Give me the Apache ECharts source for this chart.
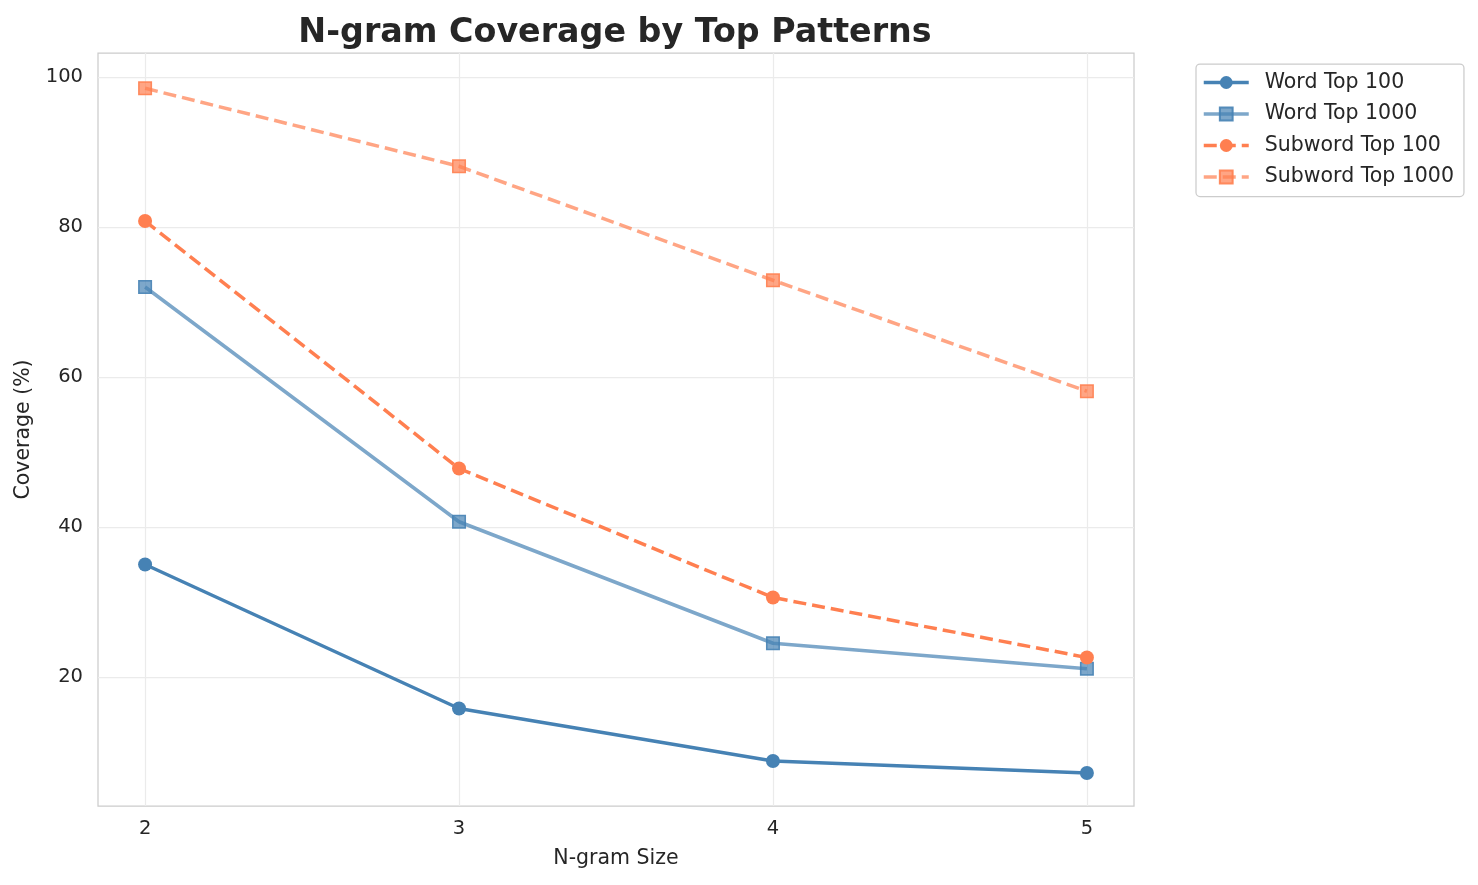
<!DOCTYPE html>
<html>
<head>
<meta charset="utf-8">
<script src="https://cdn.jsdelivr.net/npm/echarts@6/dist/echarts.min.js"></script>
<style>
html,body{margin:0;padding:0;background:#fff;}
#chart{width:1478px;height:885px;}
</style>
</head>
<body>
<div id="chart"></div>
<script>
const ngramSizes = [2, 3, 4, 5];
const xTicks = [2, 3, 4, 5];
const yTicks = [20, 40, 60, 80, 100];
const wordTop100 = [35.0, 15.8, 8.8, 7.2];
const wordTop1000 = [72.0, 40.7, 24.5, 21.1];
const subwordTop100 = [80.8, 47.8, 30.6, 22.6];
const subwordTop1000 = [98.5, 88.1, 72.9, 58.1];
const seriesNames = ['Word Top 100', 'Word Top 1000', 'Subword Top 100', 'Subword Top 1000'];

const pairs = vals => ngramSizes.map((x, i) => [x, vals[i]]);
const FONT = 'DejaVu Sans';
const TXT = '#262626';

const chart = echarts.init(document.getElementById('chart'), null, {renderer: 'canvas'});

function mk(name, vals, color, borderColor, dashed, symbol, size) {
  return {
    name: name,
    type: 'line',
    data: pairs(vals),
    symbol: symbol,
    symbolSize: size,
    showSymbol: true,
    lineStyle: {color: color, width: 3.5, type: dashed ? [13, 6] : 'solid', cap: 'butt'},
    itemStyle: {color: color, borderColor: borderColor, borderWidth: symbol === 'rect' ? 1.5 : 0, opacity: 1},
    emphasis: {disabled: true},
    z: 3
  };
}

const option = {
  animation: false,
  backgroundColor: '#fff',
  textStyle: {fontFamily: FONT},
  title: {
    text: 'N-gram Coverage by Top Patterns',
    left: 610,
    textAlign: 'center',
    top: 10,
    textStyle: {fontFamily: FONT, fontSize: 33.3, fontWeight: 'bold', color: TXT, lineHeight: 36}
  },
  grid: {
    left: 98, right: 344, top: 53, bottom: 79,
    show: true, borderColor: '#cccccc', borderWidth: 1.25, backgroundColor: '#fff',
    containLabel: false
  },
  legend: {
    orient: 'vertical',
    left: 1196, top: 64,
    data: seriesNames,
    itemWidth: 45, itemHeight: 16, itemGap: 10.5,
    padding: [8, 10, 9, 6],
    backgroundColor: '#fff',
    borderColor: '#cccccc', borderWidth: 1.25, borderRadius: 4,
    lineStyle: {width: 3.5},
    textStyle: {fontFamily: FONT, fontSize: 20.5, lineHeight: 20, color: TXT, padding: [0, 0, 0, 11]}
  },
  xAxis: {
    type: 'value',
    min: 1.85, max: 5.15,
    name: 'N-gram Size',
    nameLocation: 'middle',
    nameGap: 42,
    nameTextStyle: {fontFamily: FONT, fontSize: 20.5, color: TXT},
    axisLine: {show: false},
    axisTick: {show: false, customValues: xTicks},
    axisLabel: {customValues: xTicks, fontFamily: FONT, fontSize: 19.5, color: TXT, margin: 13},
    splitLine: {show: true, lineStyle: {color: '#ebebeb', width: 1.25}}
  },
  yAxis: {
    type: 'value',
    min: 2.8, max: 103.2,
    name: 'Coverage (%)',
    nameLocation: 'middle',
    nameGap: 64,
    nameRotate: 90,
    nameTextStyle: {fontFamily: FONT, fontSize: 20.5, color: TXT},
    axisLine: {show: false},
    axisTick: {show: false, customValues: yTicks},
    axisLabel: {customValues: yTicks, fontFamily: FONT, fontSize: 19.5, color: TXT, margin: 15},
    splitLine: {show: true, lineStyle: {color: '#ebebeb', width: 1.25}}
  },
  series: [
    mk(seriesNames[0], wordTop100, '#4682B4', '#4682B4', false, 'circle', 14),
    mk(seriesNames[1], wordTop1000, 'rgba(70,130,180,0.7)', 'rgba(70,130,180,0.9)', false, 'rect', 12.5),
    mk(seriesNames[2], subwordTop100, '#FF7F50', '#FF7F50', true, 'circle', 14),
    mk(seriesNames[3], subwordTop1000, 'rgba(255,127,80,0.7)', 'rgba(255,127,80,0.9)', true, 'rect', 12.5)
  ]
};
chart.setOption(option);
</script>
</body>
</html>
